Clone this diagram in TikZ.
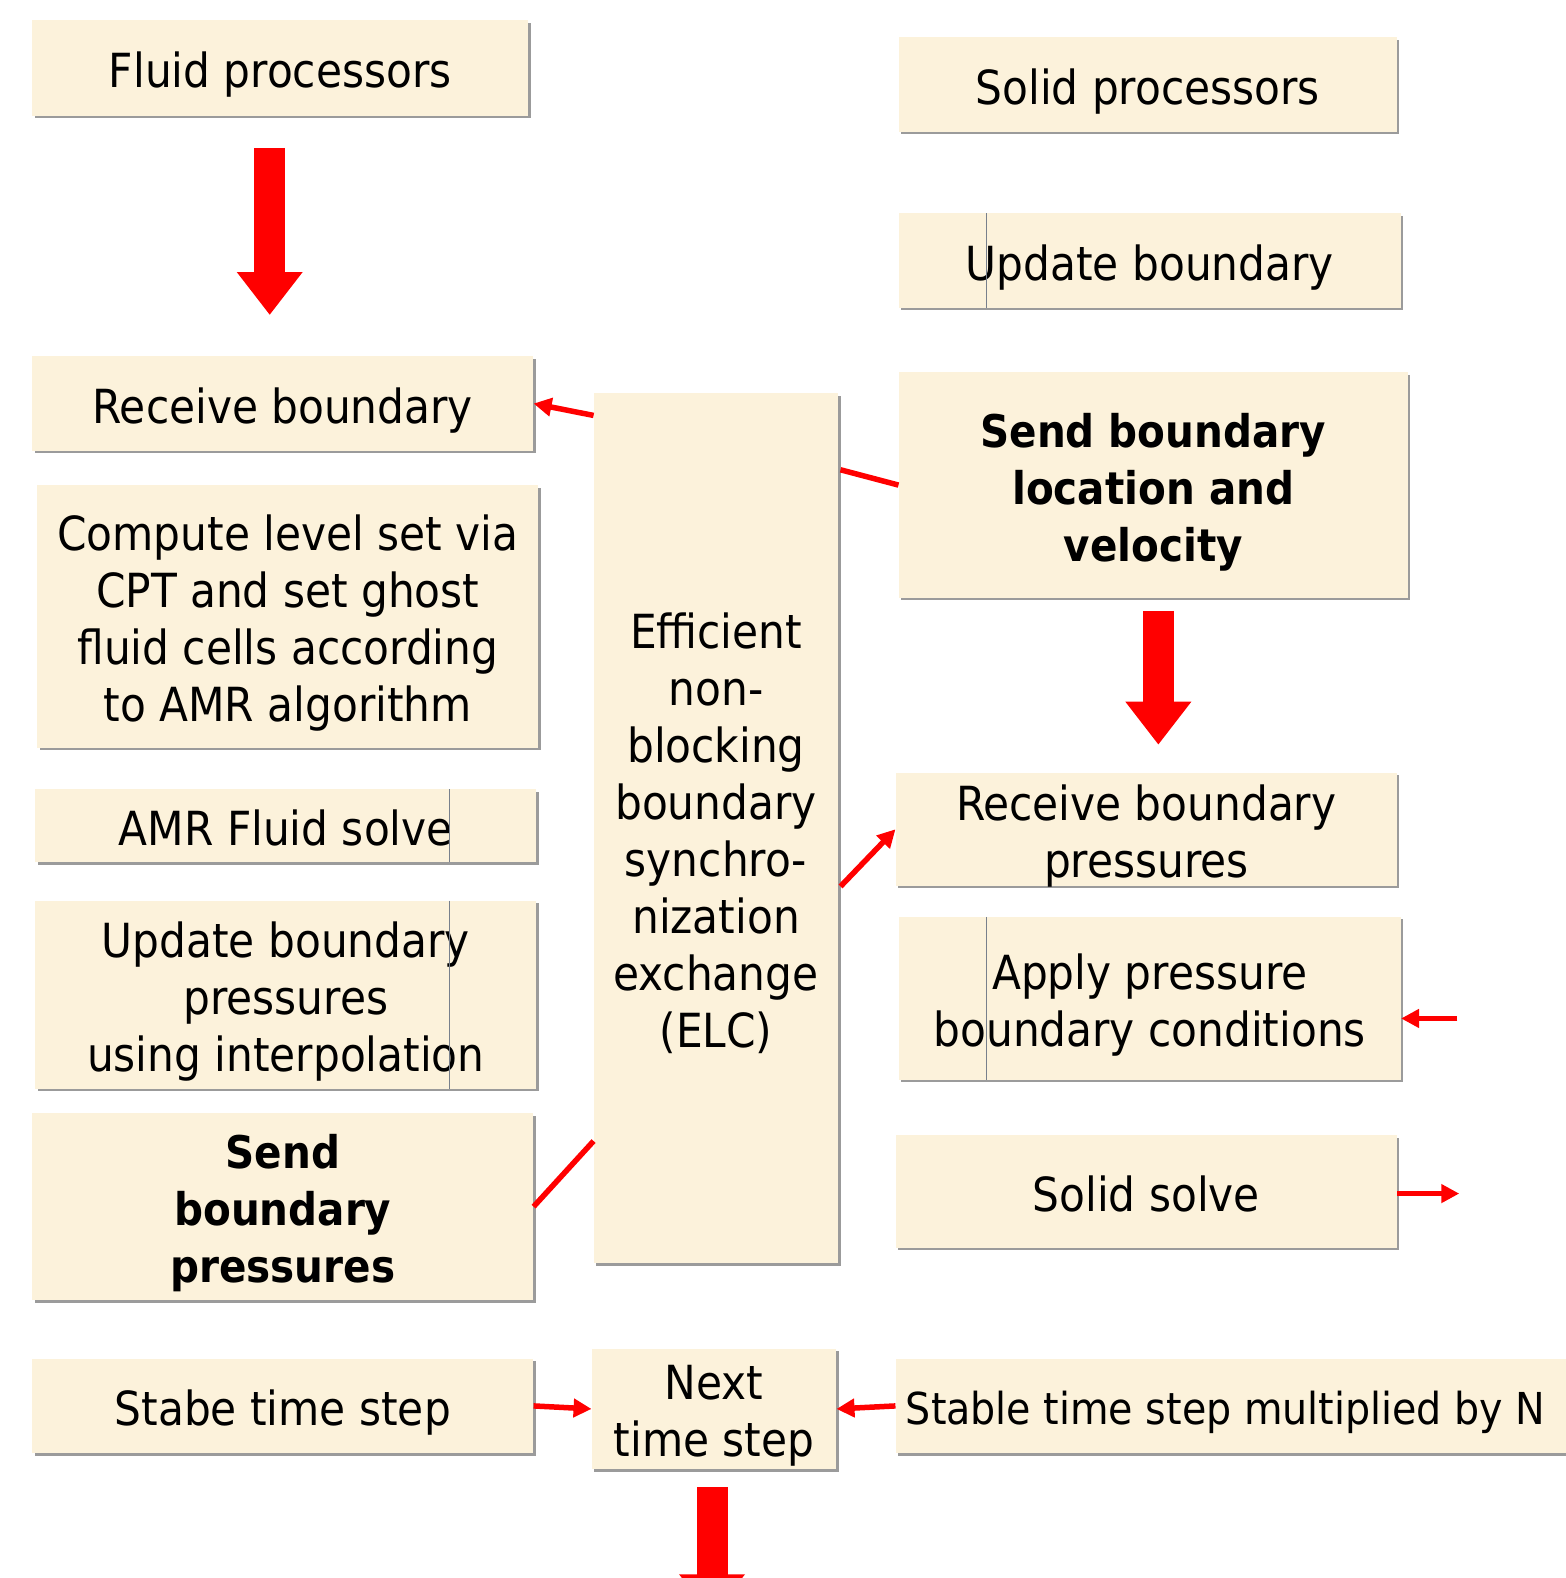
\documentclass[tikz,border=0pt]{standalone}
\usepackage{fontspec}
\setmainfont{DejaVu Sans Condensed}
\usetikzlibrary{arrows.meta,fit,calc}
\definecolor{parch}{RGB}{252,242,219}
\definecolor{shade}{RGB}{155,155,155}
\definecolor{flow}{RGB}{255,0,0}
\definecolor{seam}{RGB}{120,128,140}
\tikzset{
  card/.style={fill=parch, inner sep=0pt},
  cardtext/.style={inner sep=0pt, align=center, text depth=0pt, yshift=-2pt,
                   font=\fontsize{47}{57}\selectfont},
  boldtext/.style={inner sep=0pt, align=center, text depth=0pt, yshift=-2pt,
                   font=\fontsize{45}{57}\selectfont\bfseries},
  widetext/.style={inner sep=0pt, text depth=0pt, yshift=-2pt,
                   font=\fontsize{44}{57}\selectfont},
  cardshadow/.style={fill=shade},
  link/.style={draw=flow, line width=5.5pt, -{Triangle[length=18pt,width=18pt]}},
  plainlink/.style={draw=flow, line width=5.5pt},
  blockarrow/.style={draw=flow, line width=31pt, -{Triangle[length=43pt,width=63pt]}},
  seamline/.style={draw=seam, line width=0.8pt}
}
% \card[text style]{name}{x1}{y1}{x2}{y2}{text}: parchment box with a drop shadow
\newcommand\card[7][cardtext]{%
  \fill[cardshadow] (#3+2.5,#4+2.5) rectangle (#5+2.5,#6+2.5);
  \node[card, fit={(#3,#4) (#5,#6)}] (#2) {};
  \node[#1] (#2-text) at (#2.center) {#7};}
\begin{document}
\begin{tikzpicture}[x=1.0064pt, y=-1.0064pt]
\useasboundingbox (0,0) rectangle (1556,1568);
\clip (0,0) rectangle (1556,1568);

% fluid side
\card{fluid}{32}{20}{525}{115}{Fluid processors}
\card{recvb}{32}{354}{530}{448}{Receive boundary}
\card{levelset}{37}{482}{535}{743}{Compute level set via\\CPT and set ghost\\fluid cells according\\to AMR algorithm}
\card{amr}{35}{784}{533}{857}{AMR Fluid solve}
\card{updp}{35}{895}{533}{1082}{Update boundary\\pressures\\using interpolation}
\card[boldtext]{sendp}{32}{1106}{530}{1292}{Send\\boundary\\pressures}
\card{stabe}{32}{1350}{530}{1444}{Stabe time step}

% exchange in the middle
\card{elc}{590}{391}{833}{1255}{Efficient\\non-\\blocking\\boundary\\synchro-\\nization\\exchange\\(ELC)}
\card{next}{588}{1340}{831}{1460}{Next\\time step}

% solid side
\card{solid}{893}{37}{1388}{131}{Solid processors}
\card{updb}{893}{212}{1392}{306}{Update boundary}
\card[boldtext]{sendloc}{893}{370}{1399}{594}{Send boundary\\location and\\velocity}
\card{recvp}{890}{768}{1388}{880}{Receive boundary\\pressures}
\card{applyp}{893}{911}{1392}{1073}{Apply pressure\\boundary conditions}
\card{ssolve}{890}{1128}{1388}{1240}{Solid solve}
\fill[cardshadow] (892.5,1352.5) rectangle (1642.5,1446.5);
\node[card, fit={(890,1350) (1640,1444)}] (stableN) {};
\node[widetext, anchor=west] (stableN-text) at (900,1397) {Stable time step multiplied by N};

% seams inside some boxes
\draw[seamline] (980,212) -- (980,306);
\draw[seamline] (447,784) -- (447,857);
\draw[seamline] (447,895) -- (447,1082);
\draw[seamline] (980,911) -- (980,1073);

% thick flow arrows
\coordinate (fa1) at (268,147); \coordinate (fa2) at (268,313);
\draw[blockarrow] (fa1) -- (fa2);
\coordinate (sa1) at (1151,607); \coordinate (sa2) at (1151,740);
\draw[blockarrow] (sa1) -- (sa2);
\coordinate (na1) at (707.5,1478); \coordinate (na2) at (707.5,1607);
\draw[blockarrow] (na1) -- (na2);

% exchange links
\draw[link] ($(elc.north west)+(0,22)$) -- (recvb.east);
\draw[plainlink] (sendloc.west) -- ($(elc.north east)+(2,76)$);
\draw[link] ($(elc.north east)+(2,490)$) -- (recvp.west);
\draw[plainlink] (sendp.east) -- ($(elc.north west)+(0,743)$);

% solid side in/out
\coordinate (pin) at (1448,1012);
\draw[link] (pin) -- (applyp.east |- pin);
\coordinate (sout) at (1450,1186);
\draw[link] (ssolve.east |- sout) -- (sout);

% time step links
\draw[link] (stabe.east) -- (next.west);
\draw[link] (stableN.west) -- (next.east);
\end{tikzpicture}
\end{document}
